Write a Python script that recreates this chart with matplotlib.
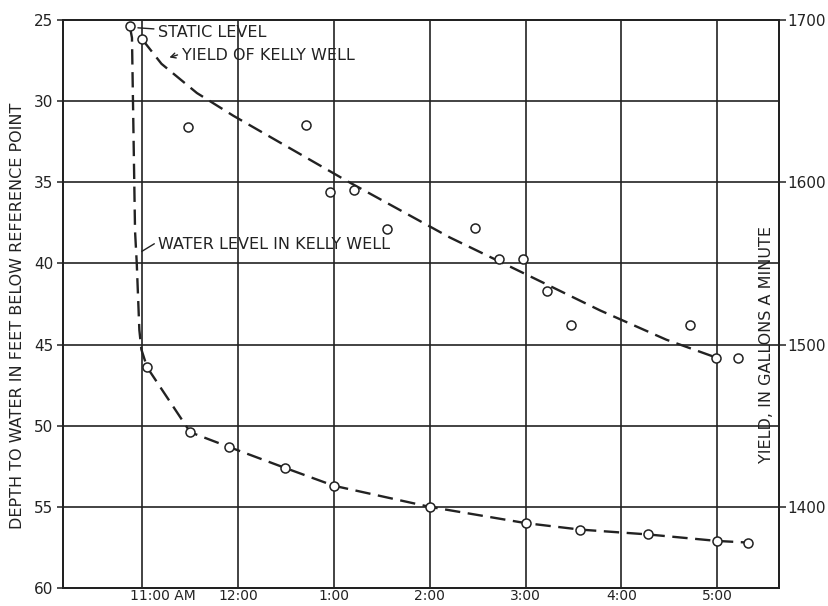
import matplotlib
matplotlib.use("Agg")
import matplotlib.pyplot as plt
from matplotlib.transforms import ScaledTranslation

# ---------------- data ----------------
hour_ticks = [11, 12, 13, 14, 15, 16, 17]
hour_labels = ["11:00 AM", "12:00", "1:00", "2:00", "3:00", "4:00", "5:00"]
depth_ticks = [25, 30, 35, 40, 45, 50, 55, 60]
yield_ticks = [1400, 1500, 1600, 1700]

# water level in Kelly well (depth, ft) -- observed points
water_time = [10.87, 11.05, 11.50, 11.90, 12.49, 13.00, 14.00, 15.00, 15.57, 16.28, 17.00, 17.32]
water_depth = [25.4, 46.4, 50.4, 51.3, 52.6, 53.7, 55.0, 56.0, 56.4, 56.7, 57.1, 57.2]
# hand-drawn drawdown curve between static level and first pumping reading
drawdown_time = [10.892, 10.924, 10.942, 10.969, 10.990]
drawdown_depth = [26.1, 38.0, 40.0, 44.1, 45.3]

# yield of Kelly well (gallons a minute) -- observed points
yield_time = [11.00, 11.48, 12.71, 12.96, 13.21, 13.55, 14.47, 14.72, 14.97, 15.22, 15.47, 16.72, 16.99, 17.22]
yield_gpm = [1688, 1634, 1635, 1594, 1595, 1571, 1572, 1553, 1553, 1533, 1512, 1512, 1492, 1492]
# hand-fitted yield curve
yfit_time = [11.00, 11.20, 11.57, 11.95, 13.13, 14.21, 14.98, 15.78, 16.47, 16.99]
yfit_gpm = [1688, 1673, 1655, 1641, 1601, 1566, 1544, 1521, 1503, 1492]

# ---------------- styling ----------------
INK = "#222222"
plt.rcParams["font.family"] = ["DejaVu Sans"]
FS = 11

W, H = 829, 606
fig = plt.figure(figsize=(W / 100, H / 100), dpi=100)
L, R, T, B = 63, 779, 20, 588
ax = fig.add_axes([L / W, 1 - B / H, (R - L) / W, (B - T) / H])

ax.set_xlim(10.172, 17.646)
ax.set_ylim(60, 25)
ax.set_xticks(hour_ticks)
ax.set_xticklabels(hour_labels)
ax.set_yticks(depth_ticks)
ax.grid(True, color=INK, lw=1.2)
ax.set_axisbelow(True)
for s in ax.spines.values():
    s.set_color(INK)
    s.set_linewidth(1.4)
ax.tick_params(axis="y", colors=INK, labelsize=FS, length=4, width=1.1, pad=3)
ax.tick_params(axis="x", colors=INK, labelsize=10, length=0, pad=1)

# shift the "11:00 AM" label so that "11:00" sits under its grid line
lbl0 = ax.get_xticklabels()[0]
lbl0.set_ha("left")
lbl0.set_transform(lbl0.get_transform() + ScaledTranslation(-12 / 100, 0, fig.dpi_scale_trans))

dash = (6.5, 3.2)
LW = 1.7

# water level curve
curve_t = [water_time[0]] + drawdown_time + water_time[1:]
curve_d = [water_depth[0]] + drawdown_depth + water_depth[1:]
ax.plot(curve_t, curve_d, color=INK, lw=LW, dashes=dash, zorder=3)
ax.plot(water_time, water_depth, ls="none", marker="o", ms=6.5, mfc="white",
        mec=INK, mew=1.1, zorder=4)

# yield (right axis)
ax2 = ax.twinx()
ax2.set_ylim(1350, 1700)
ax2.set_yticks(yield_ticks)
ax2.tick_params(axis="y", colors=INK, labelsize=FS, length=5, width=1.1, pad=1)
for s in ax2.spines.values():
    s.set_color(INK)
    s.set_linewidth(1.4)
ax2.plot(yfit_time, yfit_gpm, color=INK, lw=LW, dashes=dash, zorder=3)
ax2.plot(yield_time, yield_gpm, ls="none", marker="o", ms=6.5, mfc="white",
         mec=INK, mew=1.1, zorder=4)

# annotations (data coordinates of the depth axis)
TFS = 11.5
ax.annotate("", xy=(10.925, 25.47), xytext=(11.15, 25.56),
            arrowprops=dict(arrowstyle="-", color=INK, lw=1.0), zorder=5)
ax.text(11.165, 25.75, "STATIC LEVEL", fontsize=TFS, color=INK, va="center", ha="left", zorder=5)

ax.annotate("", xy=(11.255, 27.36), xytext=(11.395, 27.1),
            arrowprops=dict(arrowstyle="->,head_length=0.35,head_width=0.18", color=INK, lw=1.0),
            zorder=5)
ax.text(11.41, 27.2, "YIELD OF KELLY WELL", fontsize=TFS, color=INK, va="center", ha="left", zorder=5)

ax.annotate("", xy=(10.969, 39.35), xytext=(11.15, 38.7),
            arrowprops=dict(arrowstyle="-", color=INK, lw=1.0), zorder=5)
ax.text(11.165, 38.83, "WATER LEVEL IN KELLY WELL", fontsize=TFS, color=INK,
        va="center", ha="left", zorder=5)

# axis titles
fig.text(18 / W, 1 - 316 / H, "DEPTH TO WATER IN FEET BELOW REFERENCE POINT",
         rotation=90, ha="center", va="center", fontsize=TFS, color=INK)
fig.text(767 / W, 1 - 345 / H, "YIELD, IN GALLONS A MINUTE",
         rotation=90, ha="center", va="center", fontsize=TFS, color=INK)

fig.savefig("out.png", dpi=100, facecolor="white")
